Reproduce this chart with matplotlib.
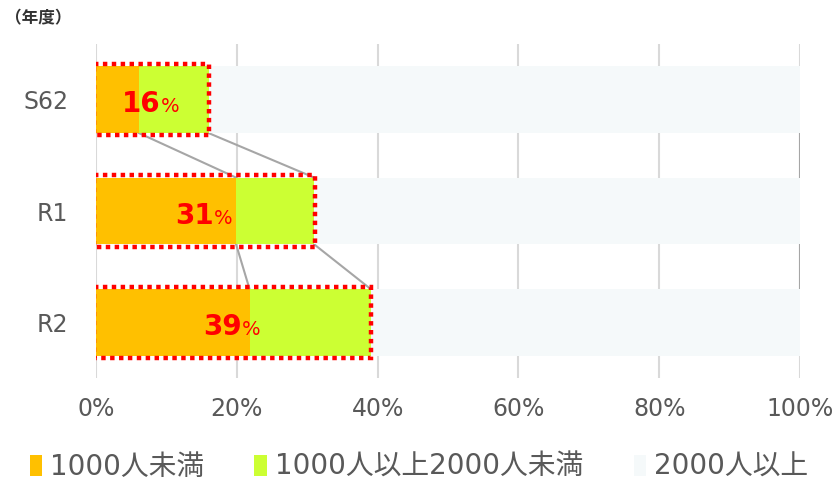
import matplotlib.pyplot as plt
from matplotlib.patches import Rectangle
import numpy as np

YEARS      = ['S62', 'R1', 'R2']
UNDER_1000 = [6.1, 19.9, 21.8]
MID_1000   = [9.9, 11.1, 17.2]
TOTAL_LBL  = ['16', '31', '39']
SERIES     = ['1000人未満', '1000人以上2000人未満', '2000人以上']
COLORS     = ['#FFC000', '#CCFF33', '#F5F9FA']
XTICKS     = [0, 20, 40, 60, 80, 100]

JP = ['DejaVu Sans', 'Noto Sans CJK JP']
GRAY = '#595959'


def main():
    under = np.array(UNDER_1000)
    mid = np.array(MID_1000)
    over = 100 - under - mid
    y = np.arange(len(YEARS))
    h = 0.6

    fig = plt.figure(figsize=(8.38, 4.84), dpi=100)
    ax = fig.add_axes([0.1146, 0.219, 0.8401, 0.690])

    left = np.zeros(len(YEARS))
    for vals, col, name in zip([under, mid, over], COLORS, SERIES):
        ax.barh(y, vals, left=left, height=h, color=col, label=name, zorder=2)
        left = left + vals

    # series lines between bars
    cums = [under, under + mid, np.full(len(YEARS), 100.0)]
    for c in cums:
        for i in range(len(YEARS) - 1):
            ax.plot([c[i], c[i + 1]], [y[i] + h / 2, y[i + 1] - h / 2],
                    color='#A6A6A6', lw=1.5, zorder=1.5)

    # dotted red boxes and totals
    for i in range(len(YEARS)):
        tot = under[i] + mid[i]
        ax.add_patch(Rectangle((-0.3, y[i] - 0.32), tot + 0.4, 0.64, fill=False,
                               edgecolor='#FF0000', lw=3.2, linestyle=(0, (1, 1)),
                               zorder=3))
        ax.annotate(TOTAL_LBL[i], (tot / 2, y[i]), xytext=(6, -9),
                    textcoords='offset points', ha='right', va='baseline',
                    color='#FF0000', fontsize=20, fontweight='bold', zorder=4)
        ax.annotate('%', (tot / 2, y[i]), xytext=(6, -9),
                    textcoords='offset points', ha='left', va='baseline',
                    color='#FF0000', fontsize=14, zorder=4)

    ax.set_xlim(0, 100)
    ax.set_ylim(2.5, -0.5)
    ax.set_xticks(XTICKS)
    ax.set_xticklabels([f'{t}%' for t in XTICKS], fontsize=17, color=GRAY)
    ax.set_yticks(y)
    ax.set_yticklabels(YEARS, fontsize=17, color=GRAY)
    ax.tick_params(length=0, pad=14)
    ax.tick_params(axis='y', pad=20)
    ax.xaxis.grid(True, color='#D9D9D9', lw=1.5, zorder=0)
    ax.set_axisbelow(True)
    for s in ax.spines.values():
        s.set_visible(False)

    fig.text(0.006, 0.962, '（年度）', fontsize=12, family='Noto Sans CJK JP',
             va='center', fontweight='bold', color='#333333')

    leg = fig.legend(loc='lower center', bbox_to_anchor=(0.5, -0.045), ncol=3,
                     frameon=False, handlelength=0.45, handleheight=0.8,
                     handletextpad=0.3, columnspacing=1.8,
                     prop={'family': JP, 'size': 20})
    for t in leg.get_texts():
        t.set_color(GRAY)

    fig.savefig('out.png', dpi=100)


if __name__ == '__main__':
    main()
